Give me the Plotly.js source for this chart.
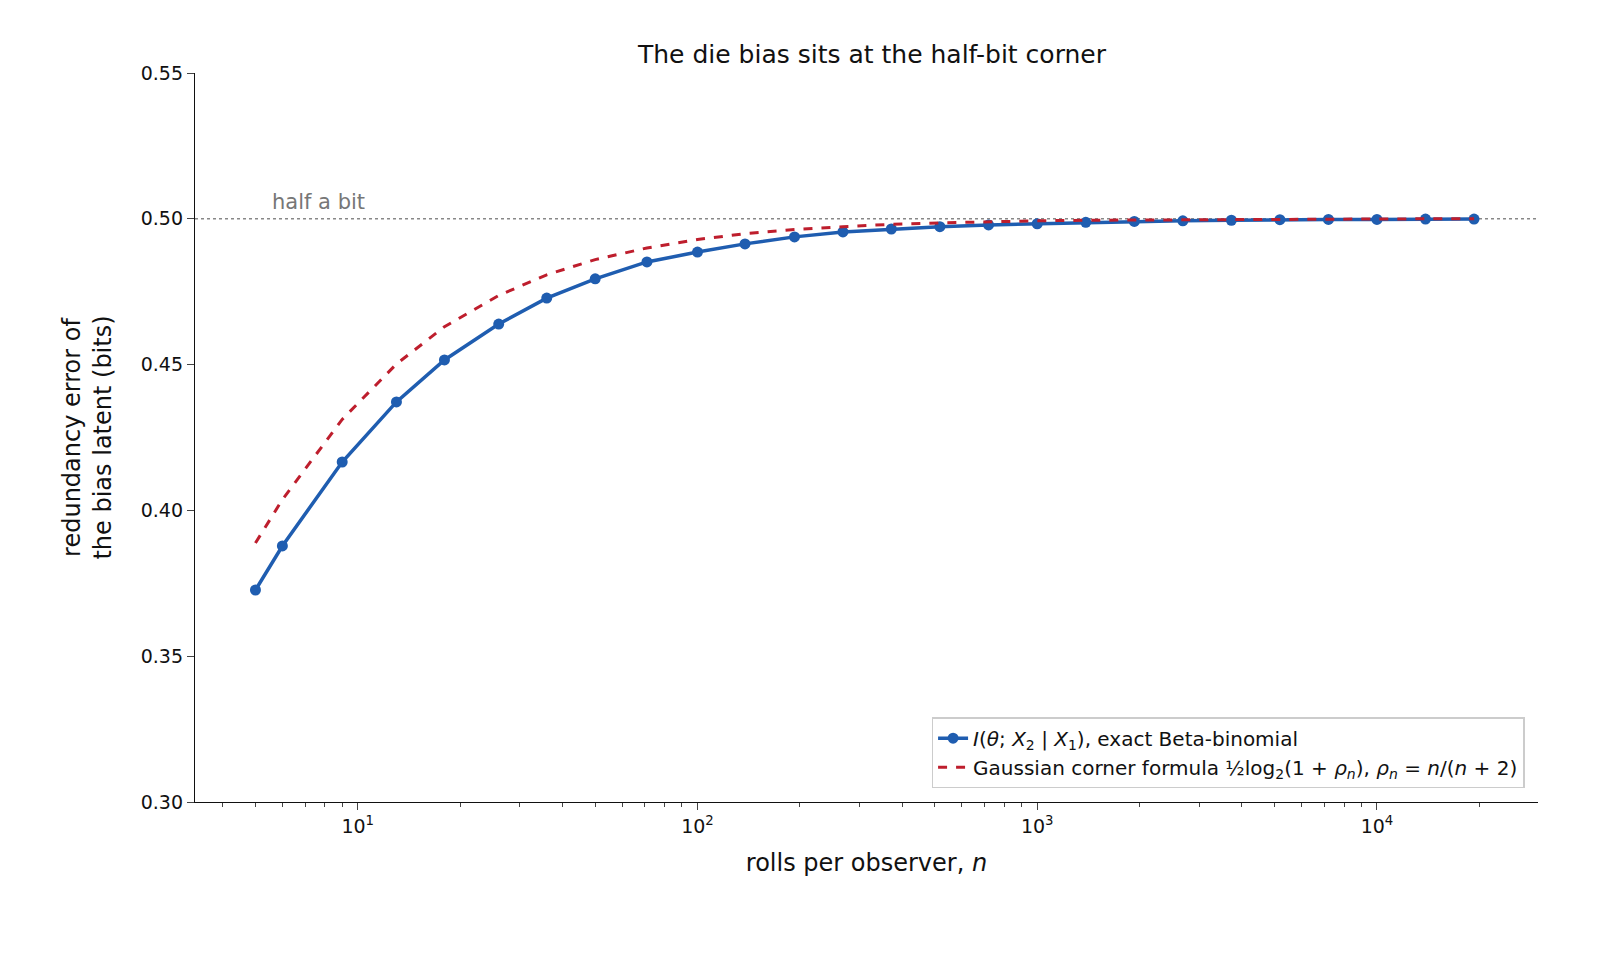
<!DOCTYPE html>
<html>
<head>
<meta charset="utf-8">
<script src="https://cdn.plot.ly/plotly-3.0.1.min.js"></script>
<style>html,body{margin:0;padding:0;overflow:hidden;background:#fff}</style>
</head>
<body>
<div id="plot" style="width:1600px;height:960px"></div>
<script>
// rolls per observer
const rolls = [5, 6, 9, 13, 18, 26, 36, 50, 71, 100, 138, 193, 268, 372, 517, 719,
  1000, 1390, 1931, 2683, 3728, 5179, 7197, 10000, 13895, 19307];
// exact Beta-binomial redundancy error
const exactBits = [0.3727, 0.3878, 0.4166, 0.4372, 0.4516, 0.4639, 0.4728, 0.4794, 0.4852,
  0.4886, 0.4914, 0.4938, 0.4955, 0.4965, 0.4973, 0.4979, 0.4983, 0.4988, 0.4991, 0.4993,
  0.4995, 0.4997, 0.4998, 0.4998, 0.4999, 0.4999];
// Gaussian corner formula curve
const gaussBits = [0.3888, 0.4037, 0.4312, 0.4502, 0.4630, 0.4737, 0.4808, 0.4860, 0.4900,
  0.4929, 0.4949, 0.4963, 0.4973, 0.4981, 0.4986, 0.4990, 0.4993, 0.4995, 0.4996, 0.4997,
  0.4998, 0.4999, 0.4999, 0.4999, 0.5000, 0.5000];
const halfBit = 0.5;
const xTicks = [10, 100, 1000, 10000];
const xTickText = ['10<sup>1</sup>', '10<sup>2</sup>', '10<sup>3</sup>', '10<sup>4</sup>'];
const decades = [1, 10, 100, 1000, 10000];
const minorMult = [2, 3, 4, 5, 6, 7, 8, 9];
const minorTicks = [];
decades.forEach(d => minorMult.forEach(m => minorTicks.push(d * m)));

const blue = '#1f5db0', red = '#be1e2d';

const exactTrace = {
  x: rolls, y: exactBits, type: 'scatter', mode: 'lines+markers',
  name: '<i>I</i>(<i>θ</i>; <i>X</i><sub>2</sub> | <i>X</i><sub>1</sub>), exact Beta-binomial',
  line: { color: blue, width: 3.5 }, marker: { color: blue, size: 11 }
};
const gaussTrace = {
  x: rolls, y: gaussBits, type: 'scatter', mode: 'lines',
  name: 'Gaussian corner formula ½log<sub>2</sub>(1 + <i>ρ<sub>n</sub></i>), <i>ρ<sub>n</sub></i> = <i>n</i>/(<i>n</i> + 2)',
  line: { color: red, width: 3, dash: 'dash' }
};

const layout = {
  width: 1600, height: 960, autosize: false,
  font: { family: 'DejaVu Sans', size: 19, color: '#111' },
  paper_bgcolor: '#fff', plot_bgcolor: '#fff',
  margin: { l: 195, r: 62, t: 73, b: 158 },
  title: { text: 'The die bias sits at the half-bit corner', x: 0.545, xanchor: 'center', y: 0.953, font: { size: 25 } },
  xaxis: {
    type: 'log', range: [0.521, 4.474], showgrid: false, zeroline: false,
    showline: true, linecolor: '#111', linewidth: 1.3,
    ticks: 'outside', ticklen: 7, tickwidth: 1.3, tickvals: xTicks, ticktext: xTickText,
    minor: { ticks: 'outside', ticklen: 4, tickwidth: 1, showgrid: false, tickvals: minorTicks },
    title: { text: 'rolls per observer, <i>n</i>', font: { size: 24 }, standoff: 18 }
  },
  yaxis: {
    range: [0.30, 0.55], dtick: 0.05, tickformat: '.2f', showgrid: false, zeroline: false,
    showline: true, linecolor: '#111', linewidth: 1.3, ticks: 'outside', ticklen: 7, tickwidth: 1.3,
    title: { text: 'redundancy error of<br>the bias latent (bits)', font: { size: 24 }, standoff: 22 }
  },
  shapes: [{ type: 'line', xref: 'paper', x0: 0, x1: 1, yref: 'y', y0: halfBit, y1: halfBit,
    line: { color: '#888', width: 1.6, dash: 'dot' }, layer: 'below' }],
  annotations: [{ x: Math.log10(5.5), y: halfBit, xref: 'x', yref: 'y', text: 'half a bit',
    showarrow: false, xanchor: 'left', yanchor: 'bottom', yshift: 3, font: { size: 21, color: '#777' } }],
  legend: { x: 0.990, xanchor: 'right', y: 0.019, yanchor: 'bottom', bgcolor: '#fff',
    bordercolor: '#ccc', borderwidth: 1.5, font: { size: 20 }, tracegroupgap: 8 },
  showlegend: true
};

Plotly.newPlot('plot', [exactTrace, gaussTrace], layout, { displayModeBar: false });
</script>
</body>
</html>
